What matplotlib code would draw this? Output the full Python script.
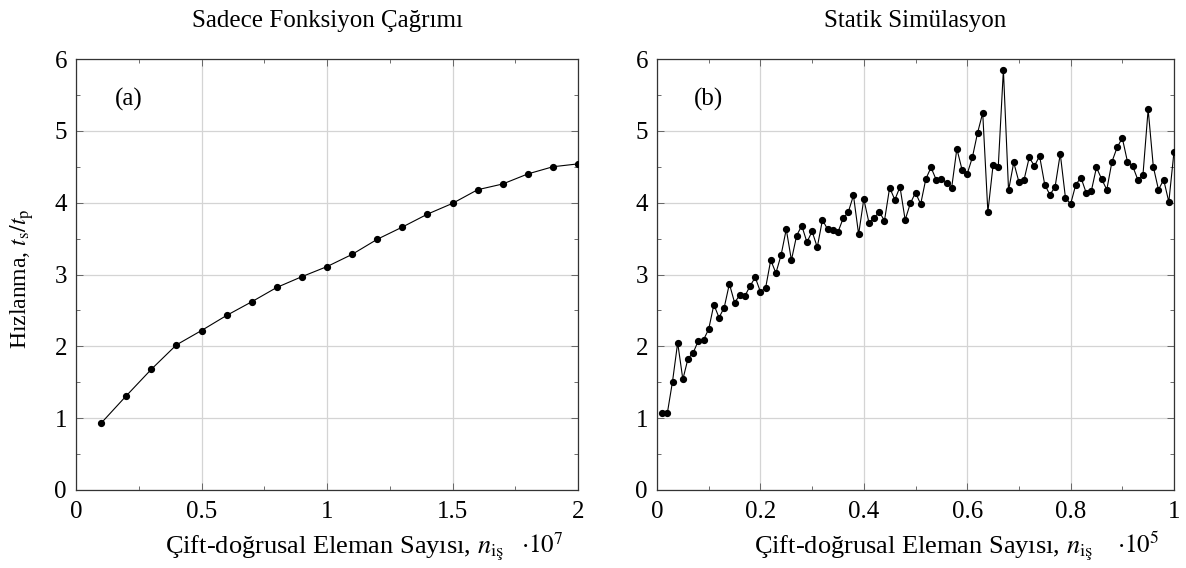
import matplotlib
matplotlib.use("Agg")
import matplotlib.pyplot as plt
from matplotlib.ticker import MultipleLocator

plt.rcParams['font.family'] = ['Liberation Serif', 'DejaVu Serif']
plt.rcParams['mathtext.fontset'] = 'stix'

# (a) function call only, x in units of 1e7
n_call = [0.1, 0.2, 0.3, 0.4, 0.5, 0.6, 0.7, 0.8, 0.9, 1.0,
          1.1, 1.2, 1.3, 1.4, 1.5, 1.6, 1.7, 1.8, 1.9, 2.0]
speedup_call = [0.93, 1.31, 1.68, 2.02, 2.22, 2.43, 2.62, 2.82, 2.97, 3.11,
                3.28, 3.49, 3.66, 3.84, 3.99, 4.18, 4.26, 4.40, 4.50, 4.54]

# (b) static simulation, x in units of 1e5
n_static = [i / 100 for i in range(1, 101)]
speedup_static = [
    1.07, 1.07, 1.51, 2.05, 1.54, 1.83, 1.91, 2.08, 2.09, 2.24,
    2.58, 2.40, 2.54, 2.87, 2.61, 2.71, 2.70, 2.84, 2.96, 2.76,
    2.81, 3.20, 3.02, 3.27, 3.63, 3.20, 3.54, 3.68, 3.45, 3.60,
    3.38, 3.76, 3.63, 3.62, 3.59, 3.78, 3.87, 4.10, 3.56, 4.05,
    3.72, 3.79, 3.87, 3.75, 4.21, 4.04, 4.22, 3.76, 3.99, 4.14,
    3.98, 4.33, 4.49, 4.32, 4.33, 4.28, 4.21, 4.75, 4.46, 4.40,
    4.63, 4.97, 5.25, 3.87, 4.52, 4.49, 5.85, 4.17, 4.56, 4.29,
    4.32, 4.63, 4.51, 4.65, 4.25, 4.11, 4.22, 4.68, 4.07, 3.98,
    4.25, 4.35, 4.14, 4.16, 4.49, 4.33, 4.18, 4.57, 4.77, 4.90,
    4.57, 4.51, 4.32, 4.39, 5.30, 4.50, 4.18, 4.32, 4.01, 4.71,
]

W, H = 1186, 568
fig = plt.figure(figsize=(W / 100, H / 100), dpi=100)
ax1 = fig.add_axes([76 / W, 1 - 490 / H, 502 / W, 431 / H])
ax2 = fig.add_axes([657 / W, 1 - 490 / H, 517 / W, 431 / H])

xlabel = r'Çift-doğrusal Eleman Sayısı, $n_{\mathrm{iş}}$'

panels = [
    (ax1, n_call, speedup_call, 'Sadece Fonksiyon Çağrımı', '(a)', 2, 0.5, 0.25, '7', 502),
    (ax2, n_static, speedup_static, 'Statik Simülasyon', '(b)', 1, 0.2, 0.1, '5', 517),
]

for ax, x, y, title, tag, xmax, xmaj, xmin, exp, wpx in panels:
    ax.plot(x, y, color='black', lw=0.8, marker='o', ms=4.2, zorder=3)
    ax.set_xlim(0, xmax)
    ax.set_ylim(0, 6)
    ax.xaxis.set_major_locator(MultipleLocator(xmaj))
    ax.xaxis.set_minor_locator(MultipleLocator(xmin))
    ax.yaxis.set_major_locator(MultipleLocator(1))
    ax.yaxis.set_minor_locator(MultipleLocator(0.5))
    ax.xaxis.set_major_formatter(plt.FuncFormatter(lambda v, p: f'{v:g}'))
    ax.grid(True, which='major', color='#d4d4d4', lw=0.9)
    ax.set_axisbelow(True)
    ax.tick_params(which='both', direction='in', top=True, right=True,
                   labelsize=18, colors='#555555', labelcolor='black')
    ax.tick_params(which='major', length=5, width=0.6)
    ax.tick_params(which='minor', length=3, width=0.6)
    ax.tick_params(axis='x', which='major', pad=8)
    ax.tick_params(axis='y', which='major', pad=6.5)
    for s in ax.spines.values():
        s.set_linewidth(0.9)
        s.set_color('#333333')
    ax.set_title(title, fontsize=18, pad=23)
    ax.set_xlabel(xlabel, fontsize=19)
    ax.xaxis.label.set_va('baseline')
    ax.xaxis.set_label_coords(0.515, -63 / 431)
    ax.text(0.105 if tag == '(a)' else 0.1, 0.905, tag, transform=ax.transAxes,
            fontsize=18, ha='center', va='center')
    ax.text(1 - 15 / wpx, -63 / 431, r'$\cdot 10^{' + exp + '}$', transform=ax.transAxes,
            fontsize=18, ha='right', va='baseline')

ax1.set_ylabel(r'Hızlanma, $t_{\mathrm{s}}/t_{\mathrm{p}}$', fontsize=17)
ax1.yaxis.label.set_va('center')
ax1.yaxis.set_label_coords(-54 / 502, 0.49)

fig.savefig('out.png', dpi=100)
